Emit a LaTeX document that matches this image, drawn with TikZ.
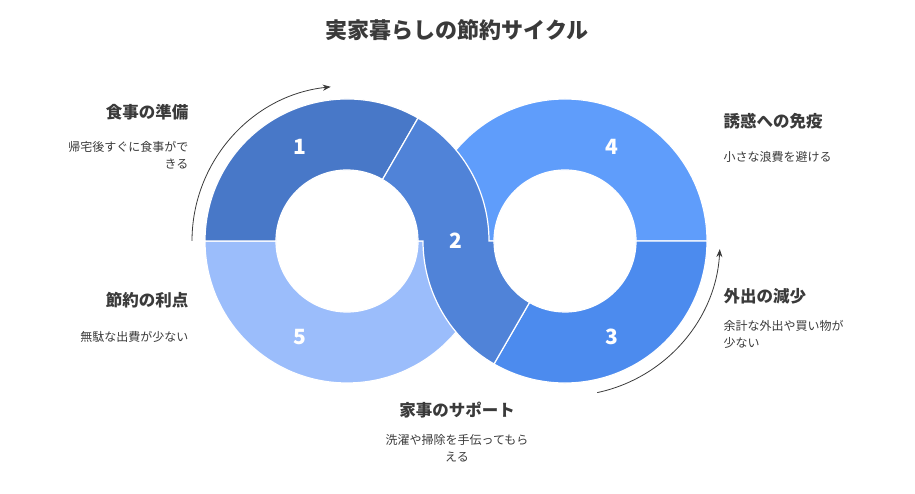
\documentclass[tikz,border=0pt]{standalone}
\usepackage{fontspec}
\setmainfont{Noto Sans CJK JP}
\usetikzlibrary{arrows.meta}
\definecolor{cA}{HTML}{4878C8}
\definecolor{cB}{HTML}{5083D8}
\definecolor{cC}{HTML}{4C8BEE}
\definecolor{cD}{HTML}{5F9DFB}
\definecolor{cE}{HTML}{9BBDFB}
\definecolor{tx}{HTML}{3A3A3A}
\tikzset{seg/.style={draw=white,line width=1.2pt},
num/.style={text=white,font=\bfseries\fontsize{21}{24}\selectfont},
head/.style={text=tx,font=\bfseries\fontsize{16.5}{18}\selectfont},
sub/.style={text=tx,font=\fontsize{12}{17}\selectfont},
arr/.style={draw=tx,line width=0.8pt,-{Stealth[length=8pt,width=6pt]}}}
\begin{document}
\begin{tikzpicture}[x=1pt,y=1pt]
\useasboundingbox (0,0) rectangle (915,494);
\coordinate (L) at (347,253);
\coordinate (R) at (565,253);
\def\Ro{142}\def\ri{71}
\fill[cD,seg] ([shift={(0:\Ro)}]R) arc[start angle=0,end angle=180,radius=\Ro] -- ([shift={(180:\ri)}]R) arc[start angle=180,end angle=0,radius=\ri] -- cycle;
\fill[cE,seg] ([shift={(180:\Ro)}]L) arc[start angle=180,end angle=360,radius=\Ro] -- ([shift={(360:\ri)}]L) arc[start angle=360,end angle=180,radius=\ri] -- cycle;
\fill[cA,seg] ([shift={(60:\Ro)}]L) arc[start angle=60,end angle=180,radius=\Ro] -- ([shift={(180:\ri)}]L) arc[start angle=180,end angle=60,radius=\ri] -- cycle;
\fill[cC,seg] ([shift={(240:\Ro)}]R) arc[start angle=240,end angle=360,radius=\Ro] -- ([shift={(0:\ri)}]R) arc[start angle=360,end angle=240,radius=\ri] -- cycle;
\fill[cB,seg] ([shift={(60:\Ro)}]L) arc[start angle=60,end angle=0,radius=\Ro] -- ([shift={(180:\ri)}]R) arc[start angle=180,end angle=240,radius=\ri] -- ([shift={(240:\Ro)}]R) arc[start angle=240,end angle=180,radius=\Ro] -- ([shift={(0:\ri)}]L) arc[start angle=0,end angle=60,radius=\ri] -- cycle;
\node[num] (n1) at (300,347) {1};
\node[num] (n2) at (456,253) {2};
\node[num] (n3) at (612,157) {3};
\node[num] (n4) at (612,347) {4};
\node[num] (n5) at (300,157) {5};
\draw[arr] ([shift={(180:155)}]L) arc[start angle=180,end angle=96,radius=155];
\draw[arr] ([shift={(-78:155)}]R) arc[start angle=-78,end angle=-3,radius=155];
\node[text=tx,font=\bfseries\fontsize{22}{26}\selectfont] (t) at (457,464) {実家暮らしの節約サイクル};
\node[head,anchor=east] (h1) at (192,382) {食事の準備};
\node[sub,anchor=north east,align=right] (s1) at (192,356) {帰宅後すぐに食事がで\\きる};
\node[head,anchor=east] (h5) at (192,194) {節約の利点};
\node[sub,anchor=east] (s5) at (192,157) {無駄な出費が少ない};
\node[head,anchor=west] (h4) at (720,373) {誘惑への免疫};
\node[sub,anchor=west] (s4) at (720,337) {小さな浪費を避ける};
\node[head,anchor=west] (h3) at (720,198) {外出の減少};
\node[sub,anchor=north west,align=left] (s3) at (720,177) {余計な外出や買い物が\\少ない};
\node[head] (h2) at (457,84) {家事のサポート};
\node[sub,align=center,anchor=north] (s2) at (457,63) {洗濯や掃除を手伝ってもら\\える};
\end{tikzpicture}
\end{document}
